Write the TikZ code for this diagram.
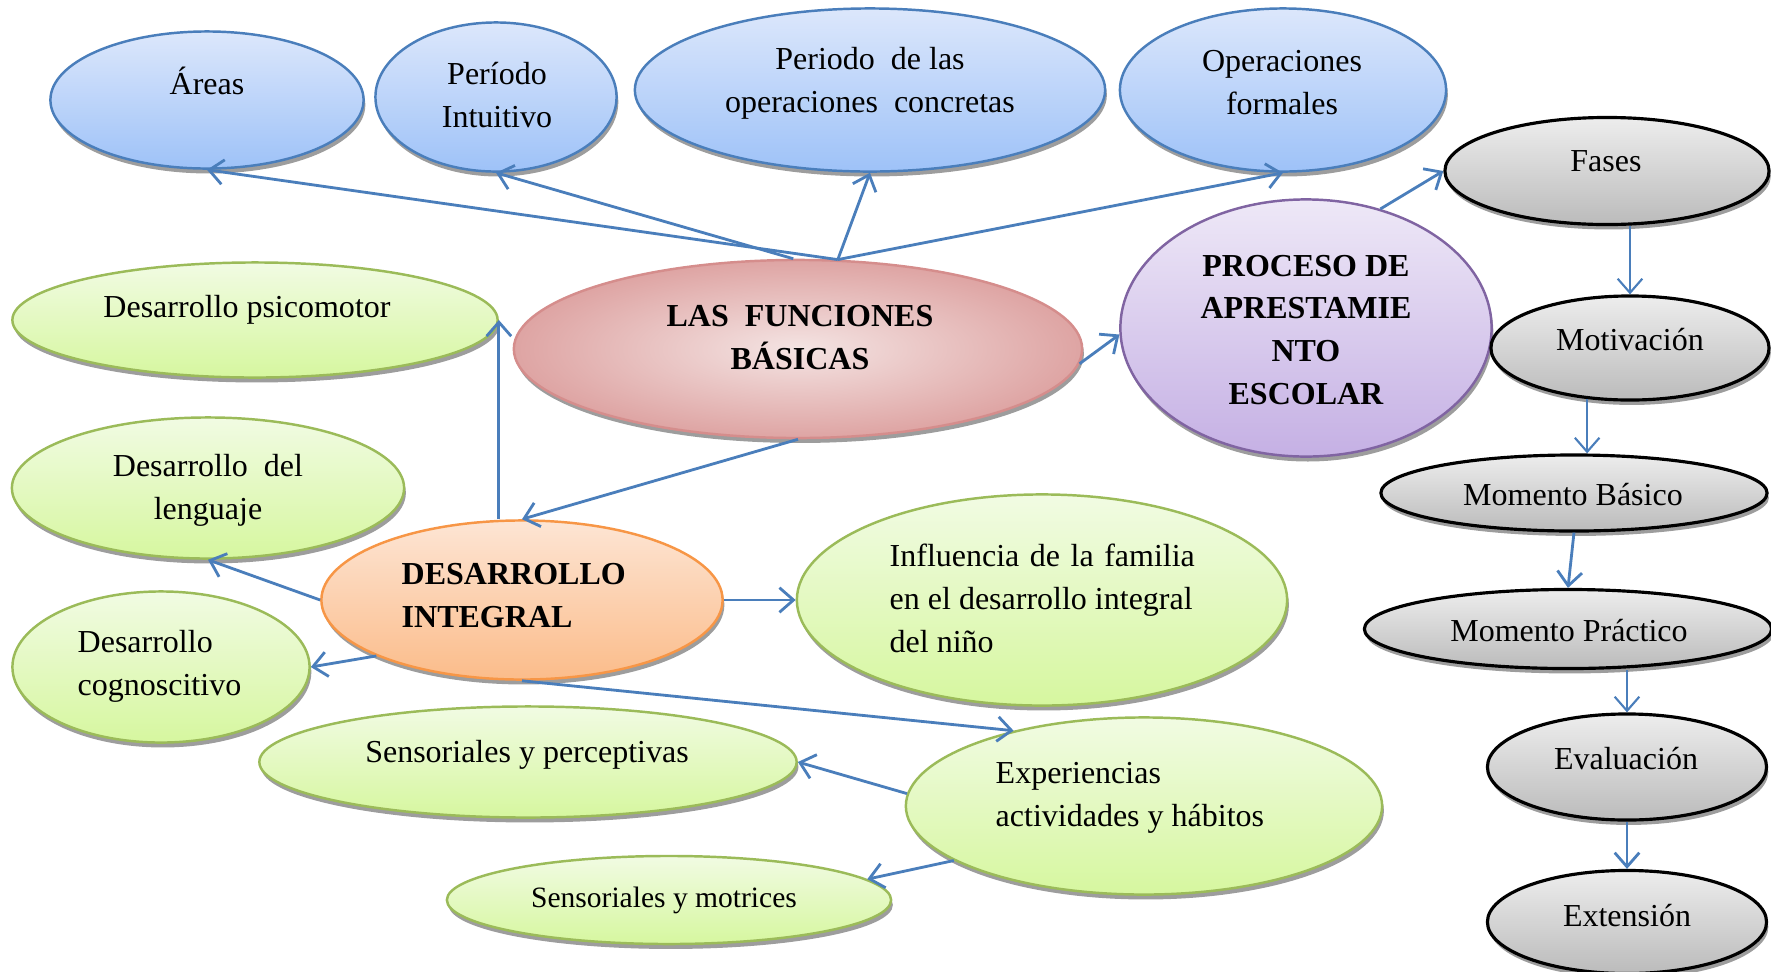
\documentclass[tikz,border=0pt]{standalone}
\usepackage{fontspec}
\setmainfont{Liberation Serif}
\usetikzlibrary{shapes.geometric,arrows.meta,shadows}
\definecolor{linkblue}{HTML}{4A7EBB}
\definecolor{blueT}{HTML}{DCE7FB}
\definecolor{blueB}{HTML}{9EC2F8}
\definecolor{greenT}{HTML}{F1FBE3}
\definecolor{greenB}{HTML}{D6F79F}
\definecolor{greenE}{HTML}{9BBB59}
\definecolor{orangeT}{HTML}{FDE5D4}
\definecolor{orangeB}{HTML}{FBBC8A}
\definecolor{orangeE}{HTML}{F79646}
\definecolor{lilaT}{HTML}{EEE8F7}
\definecolor{lilaB}{HTML}{C5B0E4}
\definecolor{lilaE}{HTML}{8064A2}
\definecolor{grisT}{HTML}{EDEDED}
\definecolor{grisB}{HTML}{BBBBBB}
\definecolor{rosaI}{HTML}{F4E4E3}
\definecolor{rosaO}{HTML}{DEA4A3}
\definecolor{rosaE}{HTML}{D58D8C}

\begin{document}
\begin{tikzpicture}[x=0.01cm,y=-0.01cm,
  ell/.style={ellipse,inner sep=0pt,line width=0.7pt,
    drop shadow={shadow xshift=0.5pt,shadow yshift=-1.4pt,fill=black!55,opacity=0.7}},
  azul/.style={ell,draw=linkblue,top color=blueT,bottom color=blueB},
  verde/.style={ell,draw=greenE,top color=greenT,bottom color=greenB},
  gris/.style={ell,draw=black,line width=0.9pt,top color=grisT,bottom color=grisB},
  txt/.style={font=\fontsize{9.1}{12.2}\selectfont,align=center,inner sep=0pt},
  txtl/.style={txt,align=left,anchor=west},
  link/.style={draw=linkblue,line width=0.8pt,-{Straight Barb[length=4pt,width=7pt]}}]
  \useasboundingbox (0,0) rectangle (1771,972);
  % fila superior (azul)
  \node[azul,minimum width=3.13cm,minimum height=1.37cm] (areas) at (207,100) {};
  \node[azul,minimum width=2.41cm,minimum height=1.49cm] (periodo) at (496,97) {};
  \node[azul,minimum width=4.70cm,minimum height=1.63cm] (concretas) at (870,90) {};
  \node[azul,minimum width=3.26cm,minimum height=1.63cm] (formales) at (1283,90) {};
  \node[txt] (tareas) at (207,81) {Áreas};
  \node[txt] (tperiodo) at (497,95) {Período\\Intuitivo};
  \node[txt] (tconcretas) at (870,83) {Periodo~~de las\\operaciones~~concretas};
  \node[txt] (tformales) at (1282,83) {Operaciones\\formales};
  % centro
  \node[ell,draw=rosaE,shading=radial,inner color=rosaI,outer color=rosaO,
    minimum width=5.68cm,minimum height=1.78cm] (funciones) at (798,349) {};
  \node[txt,font=\fontsize{9.1}{12.2}\selectfont\bfseries] (tfunciones) at (800,338) {LAS~~FUNCIONES\\BÁSICAS};
  \node[ell,draw=lilaE,top color=lilaT,bottom color=lilaB,
    minimum width=3.71cm,minimum height=2.57cm] (proceso) at (1306,328) {};
  \node[txt,font=\fontsize{9.1}{12.2}\selectfont\bfseries] (tproceso) at (1306,330) {PROCESO DE\\APRESTAMIE\\NTO\\ESCOLAR};
  % fases (gris)
  \node[gris,minimum width=3.24cm,minimum height=1.07cm] (fases) at (1607,171) {};
  \node[gris,minimum width=2.78cm,minimum height=1.04cm] (motivacion) at (1630,348) {};
  \node[gris,minimum width=3.86cm,minimum height=0.76cm] (basico) at (1574,493) {};
  \node[gris,minimum width=4.07cm,minimum height=0.79cm] (practico) at (1568,629) {};
  \node[gris,minimum width=2.79cm,minimum height=1.06cm] (evaluacion) at (1627,767) {};
  \node[gris,minimum width=2.79cm,minimum height=1.03cm] (extension) at (1627,922) {};
  \node[txt] (tfases) at (1606,161) {Fases};
  \node[txt] (tmotivacion) at (1630,340) {Motivación};
  \node[txt] (tbasico) at (1573,495) {Momento Básico};
  \node[txt] (tpractico) at (1569,631) {Momento Práctico};
  \node[txt] (tevaluacion) at (1626,759) {Evaluación};
  \node[txt] (textension) at (1627,916) {Extensión};
  % desarrollo integral (verde, naranja)
  \node[verde,minimum width=4.85cm,minimum height=1.15cm] (psicomotor) at (255,320) {};
  \node[verde,minimum width=3.92cm,minimum height=1.41cm] (lenguaje) at (208,488) {};
  \node[verde,minimum width=2.97cm,minimum height=1.51cm] (cognoscitivo) at (161,667) {};
  \node[ell,draw=orangeE,top color=orangeT,bottom color=orangeB,
    minimum width=4.01cm,minimum height=1.59cm] (integral) at (522,600) {};
  \node[verde,minimum width=4.90cm,minimum height=2.11cm] (influencia) at (1042,600) {};
  \node[verde,minimum width=5.37cm,minimum height=1.11cm] (perceptivas) at (528,762) {};
  \node[verde,minimum width=4.76cm,minimum height=1.77cm] (experiencias) at (1144,806) {};
  \node[verde,minimum width=4.44cm,minimum height=0.88cm] (motrices) at (669,900) {};
  \node[txt] (tpsicomotor) at (247,310) {Desarrollo psicomotor};
  \node[txt] (tlenguaje) at (208,490) {Desarrollo~~del\\lenguaje};
  \node[txtl] (tcognoscitivo) at (77,666) {Desarrollo\\cognoscitivo};
  \node[txtl,font=\fontsize{9.1}{12.2}\selectfont\bfseries] (tintegral) at (401,596) {DESARROLLO\\INTEGRAL};
  \node[txtl] (tinfluencia) at (889,598) {\makebox[3.05cm][s]{Influencia de la familia}\\en el desarrollo integral\\del niño};
  \node[txt] (tperceptivas) at (527,755) {Sensoriales y perceptivas};
  \node[txtl] (texperiencias) at (995,798) {Experiencias\\actividades y hábitos};
  \node[txt,font=\fontsize{8.4}{11}\selectfont] (tmotrices) at (664,900) {Sensoriales y motrices};
  % conectores
  \foreach \a/\b in {funciones.66/areas.south,funciones.93/periodo.south,
      funciones.66/concretas.south,funciones.66/formales.south,
      funciones.-3/proceso.182,proceso.58/fases.west,
      basico.south/practico.north,evaluacion.south/extension.north,
      funciones.south/integral.north,integral.west/lenguaje.south,
      integral.201/cognoscitivo.east,integral.east/influencia.west,
      integral.south/experiencias.150,experiencias.177/perceptivas.east,
      experiencias.196/motrices.6}
    \draw[link] (\a) -- (\b);
  \draw[link] (integral.north -| psicomotor.east) -- (psicomotor.east);
  \draw[link,line width=0.6pt] (fases.south -| motivacion.north) -- (motivacion.north);
  \draw[link,line width=0.6pt] (motivacion.-130) -- (motivacion.-130 |- basico.north);
  \draw[link,line width=0.6pt] (practico.south -| evaluacion.north) -- (evaluacion.north);
\end{tikzpicture}
\end{document}
